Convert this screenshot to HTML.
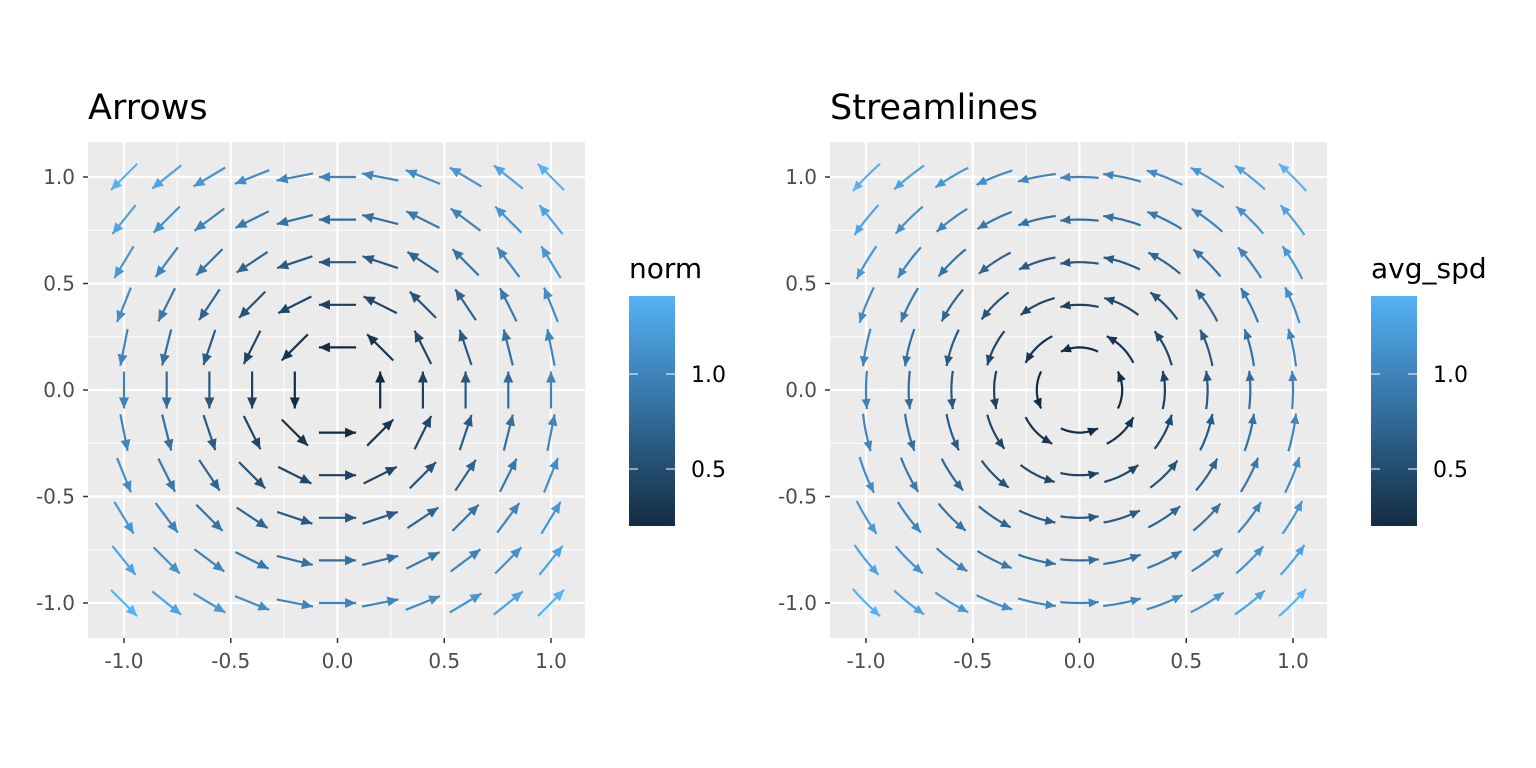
<!DOCTYPE html>
<html><head><meta charset="utf-8">
<style>
html,body{margin:0;padding:0;background:#fff;}
svg{display:block;font-family:"DejaVu Sans","Liberation Sans",sans-serif;}
</style></head>
<body>
<svg id="s" width="1536" height="768" viewBox="0 0 1536 768" xmlns="http://www.w3.org/2000/svg">
<defs>
<linearGradient id="g" x1="0" y1="1" x2="0" y2="0">
<stop offset="0" stop-color="#132B43"/>
<stop offset="1" stop-color="#56B1F7"/>
</linearGradient>
</defs>
</svg>
<script>
(function(){
var s=document.getElementById('s');var out='';
function lerp(a,b,t){return Math.round(a+(b-a)*t);}
function col(n){var t=(n-0.2)/(Math.SQRT2-0.2);t=Math.max(0,Math.min(1,t));
return 'rgb('+lerp(0x13,0x56,t)+','+lerp(0x2B,0xB1,t)+','+lerp(0x43,0xF7,t)+')';}
function head(x1,y1,x2,y2,c,L,W){var dx=x2-x1,dy=y2-y1,l=Math.hypot(dx,dy);dx/=l;dy/=l;
var bx=x2-dx*L,by=y2-dy*L;
return '<polygon points="'+x2.toFixed(1)+','+y2.toFixed(1)+' '+(bx-dy*W).toFixed(1)+','+(by+dx*W).toFixed(1)+' '+(bx+dy*W).toFixed(1)+','+(by-dx*W).toFixed(1)+'" fill="'+c+'"/>';}
function panel(off,title,legend,stream){
var L=88+off,R=585+off,T=142,B=638;
var px=function(x){return 124+off+(x+1)*213.5;},py=function(y){return 177+(1-y)*213;};
out+='<rect x="'+L+'" y="'+T+'" width="'+(R-L)+'" height="'+(B-T)+'" fill="#EBEBEB"/>';
[-0.75,-0.25,0.25,0.75].forEach(function(v){
out+='<line x1="'+px(v)+'" y1="'+T+'" x2="'+px(v)+'" y2="'+B+'" stroke="#fff" stroke-width="1"/>';
out+='<line x1="'+L+'" y1="'+py(v)+'" x2="'+R+'" y2="'+py(v)+'" stroke="#fff" stroke-width="1"/>';});
[-1,-0.5,0,0.5,1].forEach(function(v){
out+='<line x1="'+px(v)+'" y1="'+T+'" x2="'+px(v)+'" y2="'+B+'" stroke="#fff" stroke-width="2.2"/>';
out+='<line x1="'+L+'" y1="'+py(v)+'" x2="'+R+'" y2="'+py(v)+'" stroke="#fff" stroke-width="2.2"/>';
var lab=v.toFixed(1);
out+='<line x1="'+px(v)+'" y1="'+B+'" x2="'+px(v)+'" y2="'+(B+5)+'" stroke="#333" stroke-width="1.5"/>';
out+='<text x="'+px(v)+'" y="'+(B+30)+'" text-anchor="middle" font-size="20" fill="#4D4D4D">'+lab+'</text>';
out+='<line x1="'+(L-5)+'" y1="'+py(v)+'" x2="'+L+'" y2="'+py(v)+'" stroke="#333" stroke-width="1.5"/>';
out+='<text x="'+(L-13)+'" y="'+(py(v)+7)+'" text-anchor="end" font-size="20" fill="#4D4D4D">'+lab+'</text>';});
for(var i=0;i<11;i++)for(var j=0;j<11;j++){
var x=-1+i*0.2,y=-1+j*0.2;x=Math.round(x*10)/10;y=Math.round(y*10)/10;
var r=Math.hypot(x,y);if(r<1e-6)continue;var c=col(r);
if(!stream){var ux=-y/r,uy=x/r,h=0.087;
var x1=px(x-ux*h),y1=py(y-uy*h),x2=px(x+ux*h),y2=py(y+uy*h);
out+='<line x1="'+x1.toFixed(1)+'" y1="'+y1.toFixed(1)+'" x2="'+x2.toFixed(1)+'" y2="'+y2.toFixed(1)+'" stroke="'+c+'" stroke-width="2.2"/>';
out+=head(x1,y1,x2,y2,c,11,5);}
else{var th=Math.atan2(y,x),sp=0.18/r,n=12,pts=[];
for(var k=0;k<=n;k++){var a=th-sp/2+sp*k/n;pts.push([px(r*Math.cos(a)),py(r*Math.sin(a))]);}
out+='<polyline points="'+pts.map(function(p){return p[0].toFixed(1)+','+p[1].toFixed(1);}).join(' ')+'" fill="none" stroke="'+c+'" stroke-width="2.2"/>';
var p1=pts[n-2],p2=pts[n];out+=head(p1[0],p1[1],p2[0],p2[1],c,10,4.5);}
}
out+='<text x="'+L+'" y="119" font-size="35" fill="#000">'+title+'</text>';
var lx=629+off;
out+='<text x="'+lx+'" y="278" font-size="28" fill="#000">'+legend+'</text>';
out+='<rect x="'+lx+'" y="296" width="46" height="230" fill="url(#g)"/>';
[[374,'1.0'],[469,'0.5']].forEach(function(t){
out+='<line x1="'+lx+'" y1="'+t[0]+'" x2="'+(lx+9)+'" y2="'+t[0]+'" stroke="#fff" stroke-width="1"/>';
out+='<line x1="'+(lx+37)+'" y1="'+t[0]+'" x2="'+(lx+46)+'" y2="'+t[0]+'" stroke="#fff" stroke-width="1"/>';
out+='<text x="'+(lx+62)+'" y="'+(t[0]+8)+'" font-size="22" fill="#000">'+t[1]+'</text>';});
}
panel(0,'Arrows','norm',false);
panel(742,'Streamlines','avg_spd',true);
s.innerHTML+=out;
})();
</script>
</body></html>
